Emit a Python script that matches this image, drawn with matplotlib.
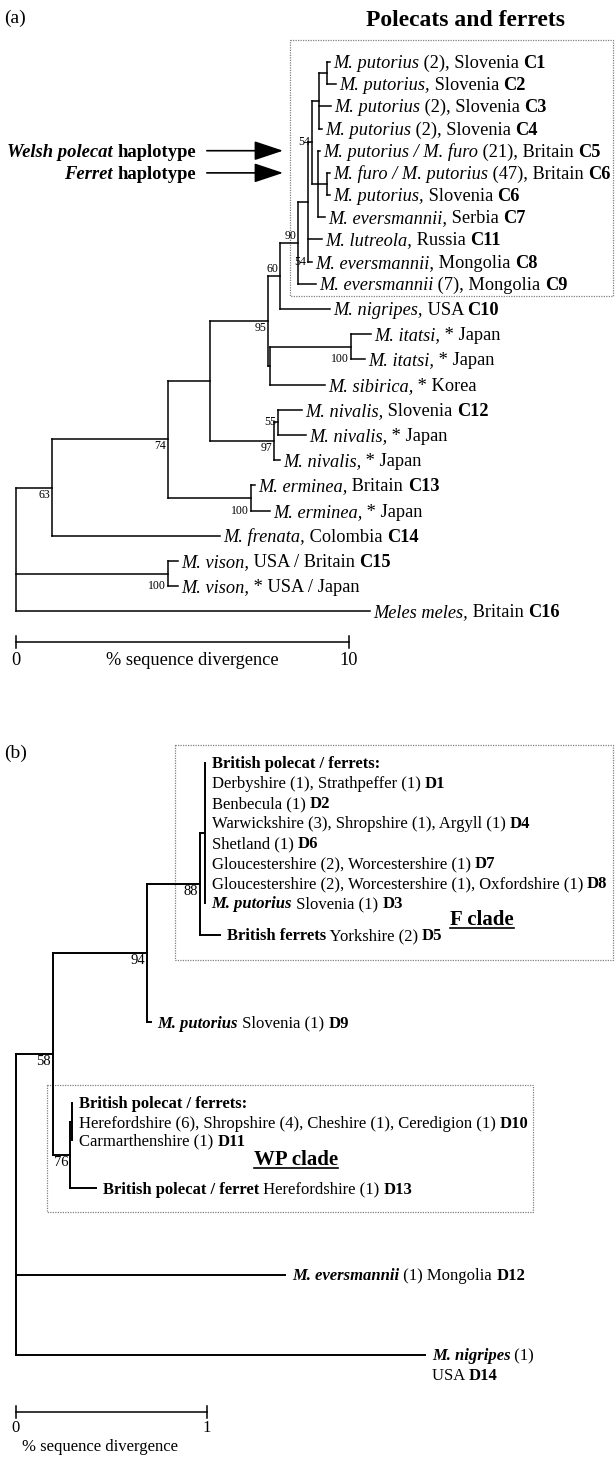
import re
import matplotlib
matplotlib.use("Agg")
import matplotlib.pyplot as plt
from matplotlib.collections import LineCollection
from matplotlib.font_manager import FontProperties
from matplotlib.patches import Rectangle
from matplotlib.transforms import offset_copy

plt.rcParams['font.family'] = ['Liberation Serif', 'DejaVu Serif']

# ---------------- data ----------------
# (a) tree, newick, branch lengths in % sequence divergence, node labels = bootstrap
tree_a = ("(((((((((((C1:0.09,C2:0.27):0.24,C3:0.36,C4:0.09):0.21,"
          "(C5:0.06,(C6B:0.09,C6S:0.09):0.27,C7:0.21):0.18)54:0.12,C11:0.42,C8:0.12)54:0.30,"
          "C9:0.54)90:0.54,C10:1.50)60:0.36,((IT1:0.60,IT2:0.42)100:2.43,SIB:1.65):0.06)95:1.74,"
          "((C12:0.72,NIVJ1:0.84)55:0.12,NIVJ2:0.18)97:1.92):1.27,"
          "(C13:0.12,ERMJ:0.57)100:2.50)74:3.48,FREN:5.05)63:1.08,"
          "(C15:0.30,VISJ:0.30)100:4.56,MELES:10.63);")

labels_a = {
    'C1': "<i>M. putorius</i> (2), Slovenia <b>C1</b>",
    'C2': "<i>M. putorius,</i> Slovenia <b>C2</b>",
    'C3': "<i>M. putorius</i> (2), Slovenia <b>C3</b>",
    'C4': "<i>M. putorius</i> (2), Slovenia <b>C4</b>",
    'C5': "<i>M. putorius / M. furo</i> (21), Britain <b>C5</b>",
    'C6B': "<i>M. furo / M. putorius</i> (47), Britain <b>C6</b>",
    'C6S': "<i>M. putorius,</i> Slovenia <b>C6</b>",
    'C7': "<i>M. eversmannii,</i> Serbia <b>C7</b>",
    'C11': "<i>M. lutreola,</i> Russia <b>C11</b>",
    'C8': "<i>M. eversmannii,</i> Mongolia <b>C8</b>",
    'C9': "<i>M. eversmannii</i> (7), Mongolia <b>C9</b>",
    'C10': "<i>M. nigripes,</i> USA <b>C10</b>",
    'IT1': "<i>M. itatsi,</i> * Japan",
    'IT2': "<i>M. itatsi,</i> * Japan",
    'SIB': "<i>M. sibirica,</i> * Korea",
    'C12': "<i>M. nivalis,</i> Slovenia <b>C12</b>",
    'NIVJ1': "<i>M. nivalis,</i> * Japan",
    'NIVJ2': "<i>M. nivalis,</i> * Japan",
    'C13': "<i>M. erminea,</i> Britain <b>C13</b>",
    'ERMJ': "<i>M. erminea,</i> * Japan",
    'FREN': "<i>M. frenata,</i> Colombia <b>C14</b>",
    'C15': "<i>M. vison,</i> USA / Britain <b>C15</b>",
    'VISJ': "<i>M. vison,</i> * USA / Japan",
    'MELES': "<i>Meles meles,</i> Britain <b>C16</b>",
}

# (b) tree (control region), same format
tree_b = ("(((((HF:0,D1:0,D2:0,D4:0,D6:0,D7:0,D8:0,D3:0):0.026,D5:0.105)88:0.277,"
          "D9:0.021)94:0.49,((HW:0,D10:0,D11:0):0.01,D13:0.136)76:0.089)58:0.194,"
          "D12:1.41,D14:2.14);")

labels_b = {
    'HF': "<b>British polecat / ferrets:</b>",
    'D1': "Derbyshire (1), Strathpeffer (1) <b>D1</b>",
    'D2': "Benbecula (1) <b>D2</b>",
    'D4': "Warwickshire (3), Shropshire (1), Argyll (1) <b>D4</b>",
    'D6': "Shetland (1) <b>D6</b>",
    'D7': "Gloucestershire (2), Worcestershire (1) <b>D7</b>",
    'D8': "Gloucestershire (2), Worcestershire (1), Oxfordshire (1) <b>D8</b>",
    'D3': "<bi>M. putorius</bi> Slovenia (1) <b>D3</b>",
    'D5': "<b>British ferrets</b> Yorkshire (2) <b>D5</b>",
    'D9': "<bi>M. putorius</bi> Slovenia (1) <b>D9</b>",
    'HW': "<b>British polecat / ferrets:</b>",
    'D10': "Herefordshire (6), Shropshire (4), Cheshire (1), Ceredigion (1) <b>D10</b>",
    'D11': "Carmarthenshire (1) <b>D11</b>",
    'D13': "<b>British polecat / ferret</b> Herefordshire (1) <b>D13</b>",
    'D12': "<bi>M. eversmannii</bi> (1) Mongolia <b>D12</b>",
    'D14': "<bi>M. nigripes</bi> (1)\nUSA <b>D14</b>",
}

# ---------------- layout ----------------
row_step_a = [0.88] * 10 + [1.0] * 13
row_step_b = [1, 1, 1, 1, 1, 1, 1, 1.6, 4.35, 4.05, 0.95, 0.9, 2.4, 4.35, 4.0]
support_pos_a = ['below', 'below', 'below', 'above', 'above', 'bottom', 'center',
                 'bottom', 'below', 'center', 'bottom', 'bottom']
support_pos_b = ['below', 'below', 'below', 'below']

W, H, DPI = 615, 1461, 100
fig = plt.figure(figsize=(W / DPI, H / DPI), dpi=DPI)
renderer = fig.canvas.get_renderer()

STY = {'': {}, 'i': {'style': 'italic'}, 'b': {'weight': 'bold'},
       'bi': {'style': 'italic', 'weight': 'bold'}}


def parse_newick(s):
    pos = 0

    def node():
        nonlocal pos
        kids = []
        if s[pos] == '(':
            pos += 1
            kids.append(node())
            while s[pos] == ',':
                pos += 1
                kids.append(node())
            pos += 1
        m = re.match(r'([^:,();]*)(?::([\d.]+))?', s[pos:])
        pos += m.end()
        return {'name': m.group(1), 'len': float(m.group(2) or 0), 'kids': kids}
    return node()


def place(n, x0, rows):
    n['x'] = x0 + n['len']
    if n['kids']:
        for k in n['kids']:
            place(k, n['x'], rows)
        n['y'] = (n['kids'][0]['y'] + n['kids'][-1]['y']) / 2
    else:
        n['y'] = next(rows)


def walk(n):
    yield n
    for k in n['kids']:
        yield from walk(k)


def cumrows(steps):
    r = [0.0]
    for s in steps:
        r.append(r[-1] + s)
    return iter(r)


def split_markup(line):
    out, pos = [], 0
    for m in re.finditer(r'<(bi|b|i)>(.*?)</\1>', line):
        if m.start() > pos:
            out.append(('', line[pos:m.start()]))
        out.append((m.group(1), m.group(2)))
        pos = m.end()
    if pos < len(line):
        out.append(('', line[pos:]))
    return out


def text_w(s, fs, kw):
    fp = FontProperties(family=plt.rcParams['font.family'], size=fs, **kw)
    w1 = renderer.get_text_width_height_descent('|' + s + '|', fp, ismath=False)[0]
    w0 = renderer.get_text_width_height_descent('||', fp, ismath=False)[0]
    return w1 - w0


def rich(ax, x, y, markup, fs, dx=0.0, ha='left', lh=1.2):
    base = 0.33 * fs * DPI / 72
    total = 0
    for li, line in enumerate(markup.split('\n')):
        parts = split_markup(line)
        total = sum(text_w(t, fs, STY[s]) for s, t in parts)
        cur = dx - {'left': 0, 'right': total, 'center': total / 2}[ha]
        for s, t in parts:
            tr = offset_copy(ax.transData, fig=fig, x=cur,
                             y=-base - li * lh * fs * DPI / 72, units='dots')
            ax.text(x, y, t, transform=tr, fontsize=fs, va='baseline', ha='left', **STY[s])
            cur += text_w(t, fs, STY[s])
    return total


def panel_axes(x0, px_per, y0, px_row):
    ax = fig.add_axes([0, 0, 1, 1])
    ax.set_xlim(-x0 / px_per, (W - x0) / px_per)
    ax.set_ylim((H - y0) / px_row, -y0 / px_row)
    ax.axis('off')
    ax.patch.set_visible(False)
    return ax


def draw_tree(ax, root, labels, lw, fs, gap, sfs, spos):
    segs = []
    for n in walk(root):
        if n['kids']:
            segs.append([(n['x'], n['kids'][0]['y']), (n['x'], n['kids'][-1]['y'])])
            for k in n['kids']:
                if k['len'] > 0:
                    segs.append([(n['x'], k['y']), (k['x'], k['y'])])
        else:
            rich(ax, n['x'], n['y'], labels[n['name']], fs, dx=gap)
    ax.add_collection(LineCollection(segs, colors='black', linewidths=lw,
                                     capstyle='projecting'))
    sup = [n for n in walk(root) if n['kids'] and n['name']]
    for n, where in zip(sup, spos):
        if where == 'below':
            y, va, dy = n['y'], 'top', -1
        elif where == 'above':
            y, va, dy = n['y'], 'bottom', 1
        elif where == 'center':
            y, va, dy = n['y'], 'center', 0
        else:
            y, va, dy = n['kids'][-1]['y'], 'center', 0
        tr = offset_copy(ax.transData, fig=fig, x=-2, y=dy, units='dots')
        ax.text(n['x'], y, n['name'], transform=tr, fontsize=sfs, ha='right', va=va)


def scale_bar(ax, x1, y, tick, fs, label_dy):
    ax.plot([0, x1], [y, y], color='black', lw=1.1)
    for xv in (0, x1):
        ax.plot([xv, xv], [y - tick, y + tick], color='black', lw=1.1)
        ax.text(xv, y + label_dy, f'{xv:g}', fontsize=fs, ha='center', va='top')


def box(ax, x0, x1, y0, y1):
    ax.add_patch(Rectangle((x0, y0), x1 - x0, y1 - y0, fill=False, ec='0.5',
                           lw=0.9, ls=(0, (1, 1))))


# ---------------- panel (a) ----------------
A_PX, A_ROW = 33.3, 25.2
ax_a = panel_axes(16, A_PX, 62, A_ROW)
root_a = parse_newick(tree_a)
root_a['len'] = 0
place(root_a, 0, cumrows(row_step_a))
tips_a = {n['name']: n for n in walk(root_a) if not n['kids']}
draw_tree(ax_a, root_a, labels_a, 1.1, 13.2, 3, 8.5, support_pos_a)

box(ax_a, 8.23, 17.93, tips_a['C1']['y'] - 0.87, tips_a['C9']['y'] + 0.5)

for key, txt in (('C5', "<bi>Welsh polecat</bi> <b>haplotype</b>"),
                 ('C6B', "<bi>Ferret</bi> <b>haplotype</b>")):
    yv = tips_a[key]['y']
    rich(ax_a, 5.4, yv, txt, 13.4, ha='right')
    ax_a.annotate('', xy=(8.02, yv), xytext=(5.73, yv),
                  arrowprops=dict(arrowstyle='-|>,head_length=0.9,head_width=0.3',
                                  color='black', lw=1.2, shrinkA=0, shrinkB=0,
                                  mutation_scale=20))

ybar = tips_a['MELES']['y'] + 1.2
scale_bar(ax_a, 10, ybar, 6 / A_ROW, 13.2, 10 / A_ROW)
ax_a.text(5.3, ybar + 10 / A_ROW, '% sequence divergence', fontsize=13.2, ha='center', va='top')

fig.text(4 / W, 1 - 18 / H, '(a)', fontsize=14, ha='left', va='center')
fig.text(465 / W, 1 - 20 / H, 'Polecats and ferrets', fontsize=17, weight='bold',
         ha='center', va='center')

# ---------------- panel (b) ----------------
B_PX, B_ROW = 191.0, 20.0
ax_b = panel_axes(16, B_PX, 763, B_ROW)
root_b = parse_newick(tree_b)
root_b['len'] = 0
place(root_b, 0, cumrows(row_step_b))
tips_b = {n['name']: n for n in walk(root_b) if not n['kids']}
draw_tree(ax_b, root_b, labels_b, 1.4, 12, 7, 10.5, support_pos_b)

box(ax_b, 0.832, 3.126, tips_b['HF']['y'] - 0.9, tips_b['D5']['y'] + 1.25)
box(ax_b, 0.162, 2.707, tips_b['HW']['y'] - 0.9, tips_b['D13']['y'] + 1.2)

for xc, yc, txt in ((2.44, tips_b['D3']['y'] + 0.75, 'F clade'),
                    (1.466, tips_b['D11']['y'] + 0.9, 'WP clade')):
    w = rich(ax_b, xc, yc, '<b>' + txt + '</b>', 15, ha='center')
    yu = yc + (0.33 * 15 * DPI / 72 + 3) / B_ROW
    ax_b.plot([xc - w / 2 / B_PX, xc + w / 2 / B_PX], [yu, yu], color='black', lw=1.2)

ybar_b = tips_b['D14']['y'] + 2.85
scale_bar(ax_b, 1, ybar_b, 6 / B_ROW, 12, 8 / B_ROW)
ax_b.text(6 / B_PX, ybar_b + 27 / B_ROW, '% sequence divergence', fontsize=12,
          ha='left', va='top')
fig.text(4 / W, 1 - 753 / H, '(b)', fontsize=14, ha='left', va='center')

fig.savefig('out.png', dpi=DPI)
